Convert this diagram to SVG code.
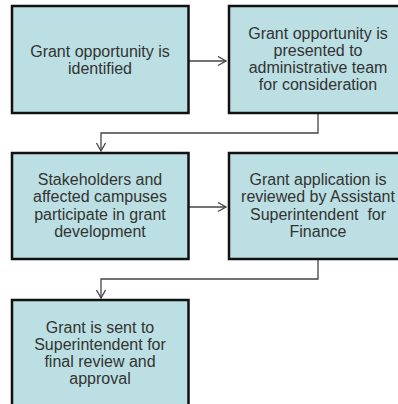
<svg xmlns="http://www.w3.org/2000/svg" width="398" height="404" viewBox="0 0 398 404">
<style>
.box{fill:#bbdfe2;stroke:#111;stroke-width:2.5}
.t{font-family:"Liberation Sans",Arial,sans-serif;font-size:16px;fill:#333;text-anchor:middle}
.c{fill:none;stroke:#444;stroke-width:1.3}
</style>
<defs>
<marker id="ah" markerUnits="userSpaceOnUse" markerWidth="12" markerHeight="12" refX="9" refY="5" orient="auto">
<path d="M1,0.5 L9,5 L1,9.5" fill="none" stroke="#444" stroke-width="1.3"/>
</marker>
</defs>
<rect width="398" height="404" fill="#fff"/>
<g id="connectors">
<line class="c" x1="188.5" y1="61" x2="226" y2="61" marker-end="url(#ah)"/>
<polyline class="c" points="318,113 318,133 101,133 101,151" marker-end="url(#ah)"/>
<line class="c" x1="188.5" y1="207" x2="226" y2="207" marker-end="url(#ah)"/>
<polyline class="c" points="318,259 318,279 101,279 101,298" marker-end="url(#ah)"/>
</g>
<g id="n1">
<rect class="box" x="12" y="6" width="176.5" height="107"/>
<text class="t"><tspan x="100" y="56.5">Grant opportunity is</tspan><tspan x="100" y="73.8">identified</tspan></text>
</g>
<g id="n2">
<rect class="box" x="229" y="6" width="178" height="107"/>
<text class="t"><tspan x="318" y="38.5">Grant opportunity is</tspan><tspan x="318" y="55.8">presented to</tspan><tspan x="318" y="73.1">administrative team</tspan><tspan x="318" y="90.4">for consideration</tspan></text>
</g>
<g id="n3">
<rect class="box" x="12" y="153" width="176.5" height="106"/>
<text class="t"><tspan x="100" y="185">Stakeholders and</tspan><tspan x="100" y="202.3">affected campuses</tspan><tspan x="100" y="219.6">participate in grant</tspan><tspan x="100" y="236.9">development</tspan></text>
</g>
<g id="n4">
<rect class="box" x="229" y="153" width="178" height="106"/>
<text class="t" xml:space="preserve"><tspan x="318" y="185">Grant application is</tspan><tspan x="318" y="202.3">reviewed by Assistant</tspan><tspan x="318" y="219.6">Superintendent  for</tspan><tspan x="318" y="236.9">Finance</tspan></text>
</g>
<g id="n5">
<rect class="box" x="12" y="300" width="176.5" height="107"/>
<text class="t"><tspan x="100" y="333">Grant is sent to</tspan><tspan x="100" y="350">Superintendent for</tspan><tspan x="100" y="367">final review and</tspan><tspan x="100" y="384">approval</tspan></text>
</g>
</svg>
